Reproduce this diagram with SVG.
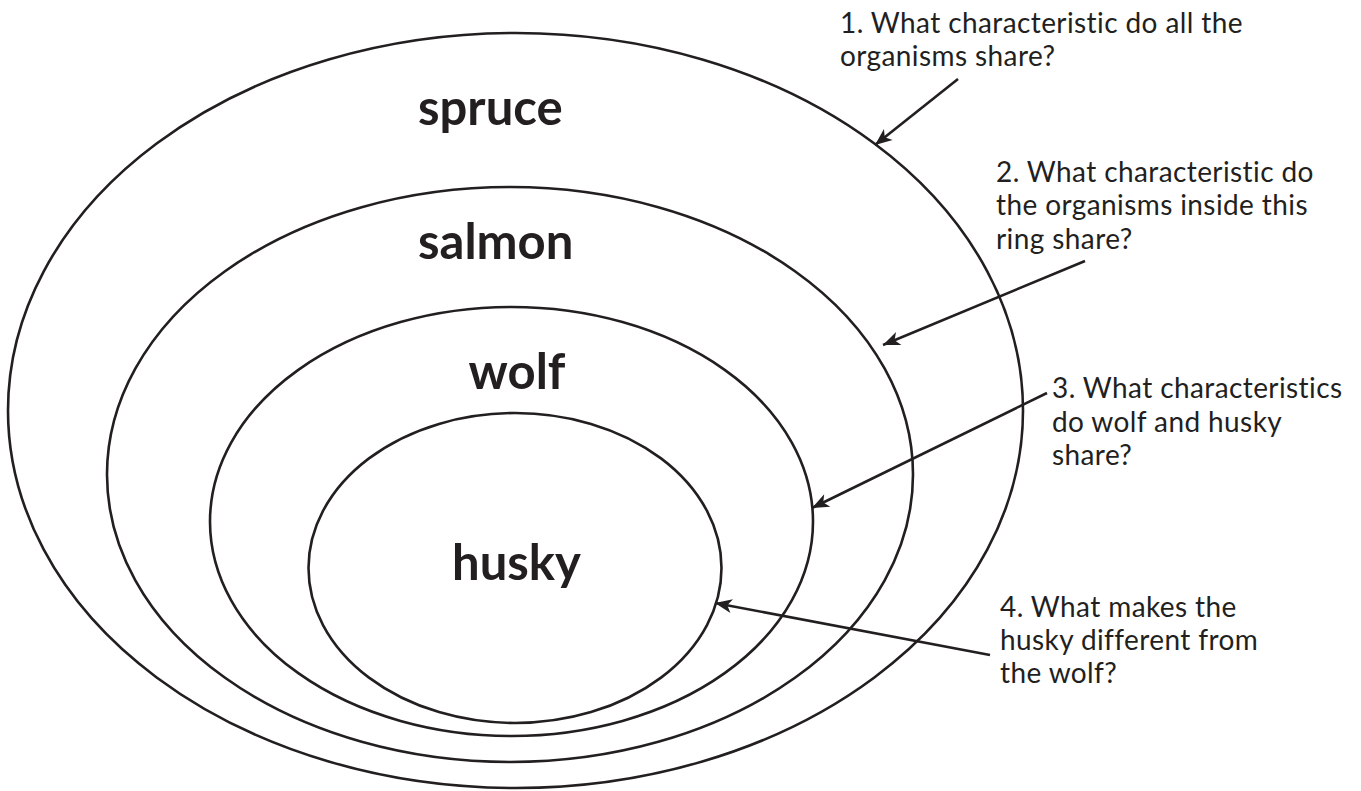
<svg xmlns="http://www.w3.org/2000/svg" width="1361" height="791" viewBox="0 0 1361 791">
<style>
.ring{fill:none;stroke:#231f20;stroke-width:2.6}
.lbl{font-family:Lato,"Liberation Sans",sans-serif;font-weight:700;font-size:49px;fill:#231f20}
.q{font-family:Lato,"Liberation Sans",sans-serif;font-size:28px;letter-spacing:0.4px;fill:#231f20}
.conn{stroke:#231f20;stroke-width:2.6;fill:none;marker-end:url(#ah)}
</style>
<defs>
<marker id="ah" markerUnits="userSpaceOnUse" viewBox="-18 -8 19 16" markerWidth="19" markerHeight="16" refX="0" refY="0" orient="auto">
<path d="M0,0 L-17,-7 L-12.5,0 L-17,7 Z" fill="#231f20"/>
</marker>
</defs>
<rect width="1361" height="791" fill="#fff"/>
<g id="spruce"><ellipse class="ring" cx="515.5" cy="410.5" rx="507.5" ry="377.5"/><text class="lbl" x="418" y="125">spruce</text></g>
<g id="salmon"><ellipse class="ring" cx="510" cy="474.5" rx="403" ry="287.5"/><text class="lbl" x="418" y="259">salmon</text></g>
<g id="wolf"><ellipse class="ring" cx="511.5" cy="521.5" rx="301.5" ry="214.5"/><text class="lbl" x="517" y="389" text-anchor="middle">wolf</text></g>
<g id="husky"><ellipse class="ring" cx="515" cy="568" rx="206.5" ry="155"/><text class="lbl" x="516.5" y="580" text-anchor="middle">husky</text></g>
<g id="q1"><text class="q" x="840" y="33">1. What characteristic do all the</text><text class="q" x="840" y="66">organisms share?</text></g>
<g id="q2"><text class="q" x="996" y="182">2. What characteristic do</text><text class="q" x="996" y="215">the organisms inside this</text><text class="q" x="996" y="249">ring share?</text></g>
<g id="q3"><text class="q" x="1052" y="398">3. What characteristics</text><text class="q" x="1052" y="432">do wolf and husky</text><text class="q" x="1052" y="465">share?</text></g>
<g id="q4"><text class="q" x="1000" y="617">4. What makes the</text><text class="q" x="1000" y="650">husky different from</text><text class="q" x="1000" y="683">the wolf?</text></g>
<g id="connectors">
<line class="conn" x1="958" y1="79" x2="875" y2="145"/>
<line class="conn" x1="1085" y1="261" x2="883" y2="345"/>
<line class="conn" x1="1047" y1="393" x2="812" y2="508"/>
<line class="conn" x1="990" y1="655" x2="715" y2="603"/>
</g>
</svg>
